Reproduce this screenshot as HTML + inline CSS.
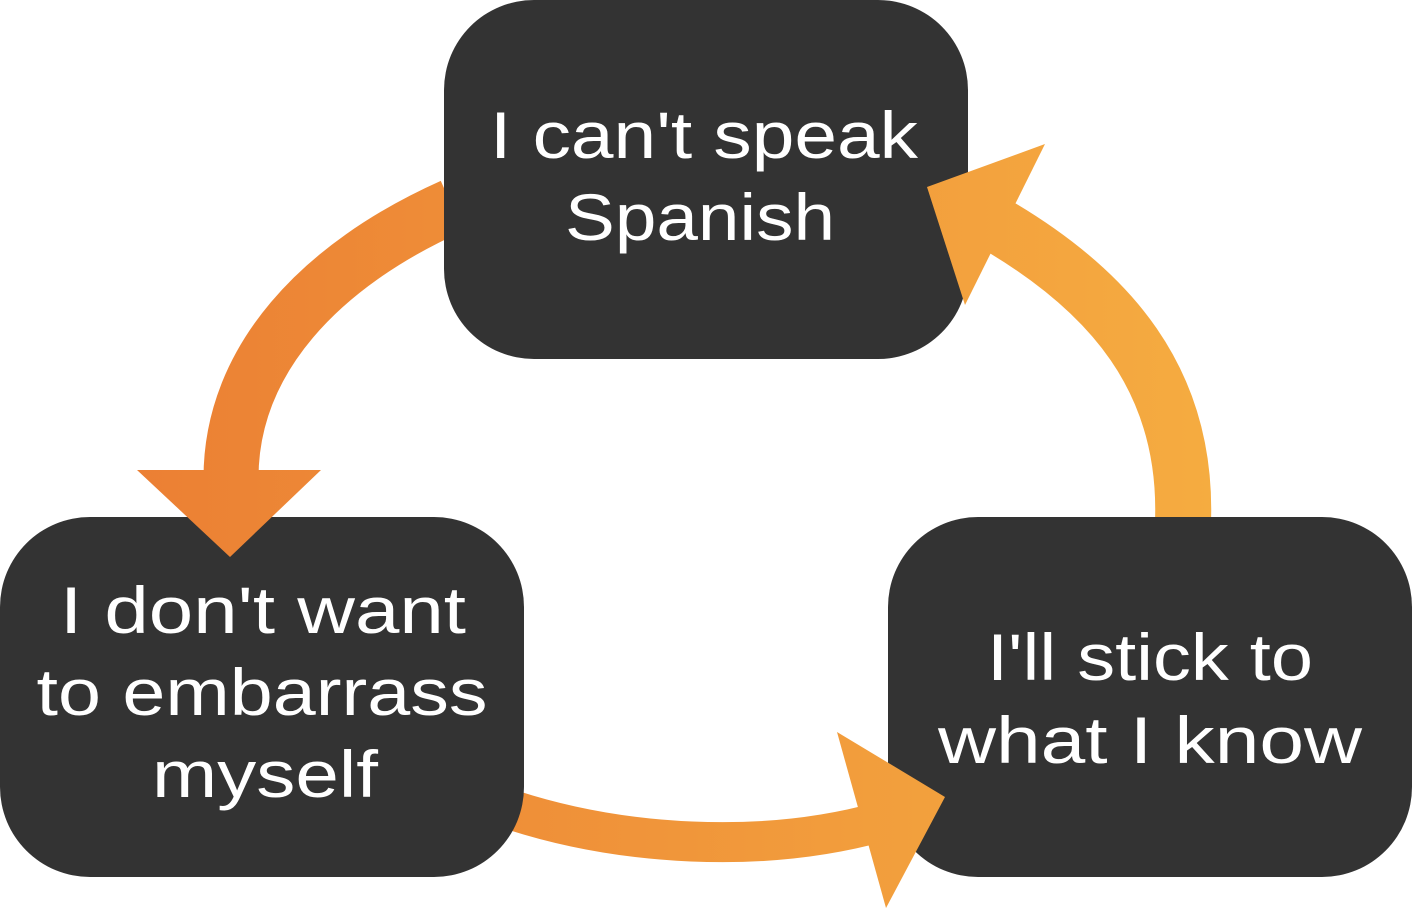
<!DOCTYPE html>
<html><head><style>
html,body{margin:0;padding:0;background:#fff;}
svg{display:block;}
text{font-family:"Liberation Sans",sans-serif;fill:#fff;font-size:66px;text-anchor:middle;}
</style></head><body>
<svg width="1412" height="909" viewBox="0 0 1412 909">
<defs>
<linearGradient id="g" x1="0" y1="0" x2="1412" y2="0" gradientUnits="userSpaceOnUse">
<stop offset="0" stop-color="#ea7a32"/><stop offset="1" stop-color="#f7b443"/>
</linearGradient>
</defs>
<g fill="none" stroke="url(#g)">
<path d="M452 206 C320 265 231 360 231 478" stroke-width="55"/>
<path d="M512 810 C620 845 760 855 880 822" stroke-width="40"/>
<path d="M1183 522 C1188 380 1110 290 992 222" stroke-width="56"/>
</g>
<g fill="#333333">
<rect x="444" y="0" width="524" height="359" rx="90"/>
<rect x="0" y="517" width="524" height="360" rx="90"/>
<rect x="888" y="517" width="524" height="360" rx="90"/>
</g>
<g fill="url(#g)">
<polygon points="137,470 321,470 230,557"/>
<polygon points="837,732 945,797 886,908"/>
<polygon points="927,187 1045,144 965,305"/>
</g>
<text x="704" y="158" textLength="428" lengthAdjust="spacingAndGlyphs">I can't speak</text>
<text x="700" y="240" textLength="270" lengthAdjust="spacingAndGlyphs">Spanish</text>
<text x="263" y="633" textLength="406" lengthAdjust="spacingAndGlyphs">I don't want</text>
<text x="262" y="715" textLength="451" lengthAdjust="spacingAndGlyphs">to embarrass</text>
<text x="265" y="797" textLength="226" lengthAdjust="spacingAndGlyphs">myself</text>
<text x="1150" y="680" textLength="326" lengthAdjust="spacingAndGlyphs">I'll stick to</text>
<text x="1150" y="763" textLength="424" lengthAdjust="spacingAndGlyphs">what I know</text>
</svg>
</body></html>
